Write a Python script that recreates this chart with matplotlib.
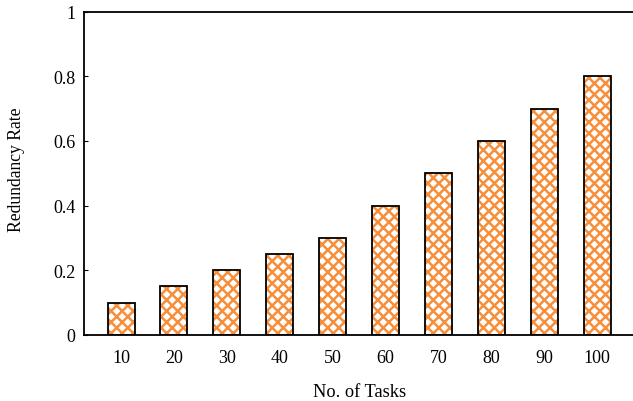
import matplotlib
matplotlib.use("Agg")
import matplotlib.pyplot as plt

tasks = ["10", "20", "30", "40", "50", "60", "70", "80", "90", "100"]
rates = [0.10, 0.15, 0.20, 0.25, 0.30, 0.40, 0.50, 0.60, 0.70, 0.80]
yticks = [0, 0.2, 0.4, 0.6, 0.8, 1]
ytick_labels = ["0", "0.2", "0.4", "0.6", "0.8", "1"]

plt.rcParams['font.family'] = ['Liberation Serif', 'DejaVu Serif']
plt.rcParams['hatch.linewidth'] = 1.8

orange = '#f68e3a'
fig = plt.figure(figsize=(6.33, 4.02), dpi=100)
# axes extends slightly beyond the right edge of the image, as in the reference
xmin, xmax = 0.3, 10.7
unit = 52.9
axw = (xmax - xmin) * unit
ax = fig.add_axes([84/633, 1 - 336/402, axw / 633, 323.5/402])
x = list(range(1, len(tasks) + 1))
ax.bar(x, rates, width=0.51, color='white', edgecolor=orange, linewidth=0, hatch='xxx')
ax.bar(x, rates, width=0.51, fill=False, edgecolor='black', linewidth=1.3)
ax.set_xlim(xmin, xmax)
ax.set_ylim(0, 1)
ax.set_xticks(x)
ax.set_xticklabels(tasks, fontsize=13)
ax.set_yticks(yticks)
ax.set_yticklabels(ytick_labels, fontsize=13)
ax.tick_params(axis='x', length=0, pad=10)
ax.tick_params(axis='y', direction='in', length=3, pad=6)
for s in ax.spines.values():
    s.set_linewidth(1.3)
ax.set_xlabel("No. of Tasks", fontsize=13.2, labelpad=12)
ax.set_ylabel("Redundancy Rate", fontsize=12.7)
ax.yaxis.set_label_coords((25 - 84) / axw, 0.513)
fig.savefig("out.png", dpi=100)
